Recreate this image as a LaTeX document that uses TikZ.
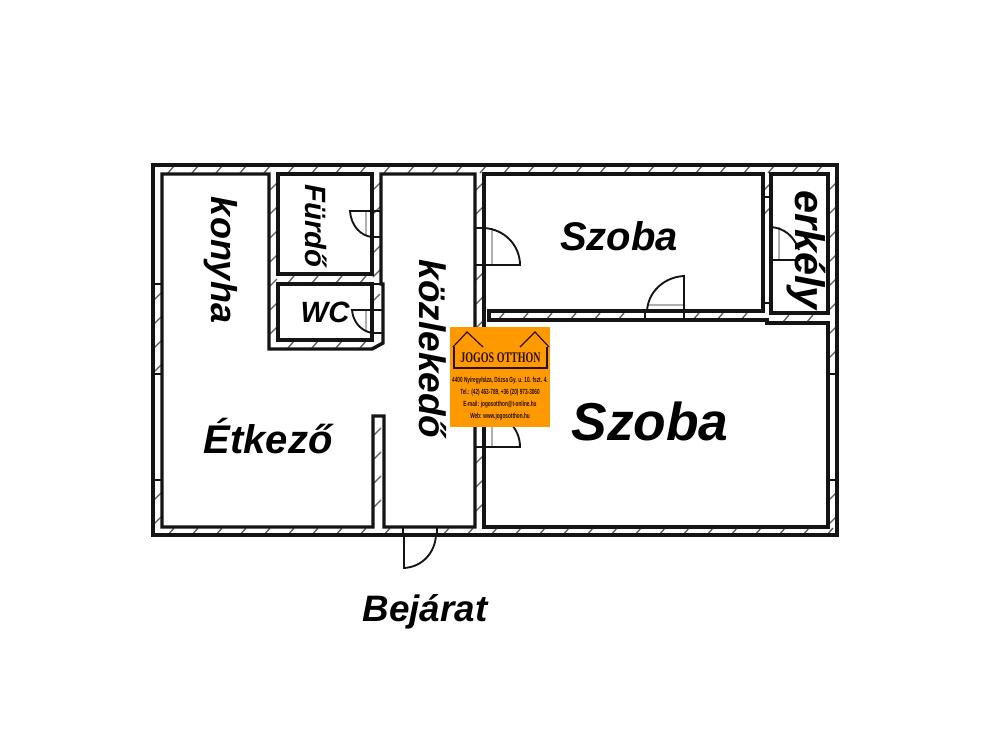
\documentclass[tikz,border=0pt]{standalone}
\usepackage{fontspec}
\setmainfont{Liberation Sans}
\newfontfamily\logofont{Liberation Serif}
\definecolor{wallblack}{RGB}{20,20,20}
\definecolor{doorgrey}{RGB}{175,175,175}
\definecolor{logoorange}{RGB}{255,153,0}
\definecolor{logoink}{RGB}{40,15,0}
\newcommand{\hatchstep}{24}
\tikzset{
    wall/.style={draw=wallblack, line width=2.6pt, line join=miter},
    hatch/.style={draw=wallblack!70, line width=1pt},
    jamb/.style={draw=wallblack, line width=1.3pt},
    door/.style={draw=wallblack, line width=1.4pt},
    doorline/.style={draw=doorgrey, line width=1pt},
    room/.style={anchor=base, inner sep=0pt, font=\bfseries\itshape\fontsize{#1}{#1}\selectfont},
    logohead/.style={inner sep=0pt, text=logoink, xscale=.68, font=\logofont\bfseries\fontsize{11}{11}\selectfont},
    logoline/.style={inner sep=0pt, text=logoink, xscale=.63, font=\bfseries\fontsize{5.6}{5.6}\selectfont},
}
% slanted strokes in a wall: from, to, near edge
\newcommand{\hatchh}[3]{
    \pgfmathsetmacro{\hnext}{#1+\hatchstep}
    \foreach \hx in {#1,\hnext,...,#2}
        \draw[hatch] (\hx+4,#3+1) -- (\hx-2,#3+8);
}
\newcommand{\hatchv}[3]{
    \pgfmathsetmacro{\vnext}{#1+\hatchstep}
    \foreach \vy in {#1,\vnext,...,#2}
        \draw[hatch] (#3+1,\vy+5) -- (#3+8,\vy-2);
}
\begin{document}
\begin{tikzpicture}[x=.75pt, y=-.75pt]
    \useasboundingbox (0,0) rectangle (1000,754);

    % hatching first, the wall lines go over it
    \hatchh{170}{830}{165}
    \hatchh{170}{400}{527}
    \hatchh{445}{830}{527}
    \hatchh{290}{365}{275}
    \hatchh{290}{365}{340}
    \hatchh{500}{640}{312}
    \hatchh{695}{760}{312}
    \hatchh{785}{825}{314}
    \hatchv{295}{370}{153}
    \hatchv{495}{525}{153}
    \hatchv{185}{370}{828}
    \hatchv{495}{525}{828}
    \hatchv{185}{345}{269}
    \hatchv{185}{205}{372}
    \hatchv{248}{305}{372}
    \hatchv{185}{222}{475}
    \hatchv{275}{325}{475}
    \hatchv{458}{525}{475}
    \hatchv{430}{520}{373}
    \hatchv{185}{190}{763}

    % outer wall and rooms
    \draw[wall] (153,165) rectangle (837,535);
    \draw[wall] (162,174) -- (269,174) -- (269,349) -- (372,349) -- (383,343) -- (383,284)
        -- (381,284) -- (381,174) -- (475,174) -- (475,527) -- (384,527) -- (384,416)
        -- (373,416) -- (373,527) -- (162,527) -- cycle;
    \draw[wall] (278,174) rectangle (372,274);
    \draw[wall] (278,284) rectangle (372,340);
    \draw[wall] (484,174) -- (763,174) -- (763,311) -- (489,311) -- (489,320) -- (767,320)
        -- (767,323) -- (828,323) -- (828,527) -- (484,527) -- cycle;
    \draw[wall] (771,174) rectangle (828,313);

    % window and door jambs
    \draw[jamb] (153,284) -- (162,284) (153,374) -- (162,374) (153,480) -- (162,480);
    \draw[jamb] (828,374) -- (837,374) (828,480) -- (837,480);
    \draw[jamb] (763,197) -- (771,197) (763,303) -- (771,303);
    \draw[jamb] (372,284) -- (383,284);
    \draw[jamb] (372,211) -- (381,211) (372,237) -- (381,237);
    \draw[jamb] (372,310) -- (383,310) (372,333) -- (383,333);
    \draw[jamb] (475,228) -- (484,228) (475,265) -- (484,265);
    \draw[jamb] (475,412) -- (484,412) (475,447) -- (484,447);
    \draw[jamb] (645,311) -- (645,320) (684,311) -- (684,320);
    \draw[jamb] (403,527) -- (403,535) (437,527) -- (437,535);

    % doors
    \draw[doorline] (366,211) -- (366,236);
    \draw[doorline] (366,310) -- (366,332);
    \draw[doorline] (492,228) -- (492,265);
    \draw[doorline] (492,412) -- (492,447);
    \draw[doorline] (647,305) -- (684,305);
    \draw[doorline] (779,227) -- (779,259);
    \draw[door] (372,211) -- (350,211) .. controls (351,226) and (361,236) .. (372,237);
    \draw[door] (372,310) -- (352,310) .. controls (353,322) and (361,331) .. (372,333);
    \draw[door] (484,265) -- (520,265) .. controls (520,245) and (504,229) .. (484,228);
    \draw[door] (484,447) -- (520,447) .. controls (520,427) and (504,413) .. (484,412);
    \draw[door] (684,311) -- (684,276) .. controls (664,277) and (648,292) .. (647,311);
    \draw[door] (771,260) -- (800,260) (771,227) .. controls (784,228) and (794,236) .. (799,250);
    \draw[door] (404,535) -- (404,568) .. controls (422,567) and (435,553) .. (436,535);

    % rooms
    \node[room=30] (szobaone) at (619,250) {Szoba};
    \node[room=40] (szobatwo) at (650,440) {Szoba};
    \node[room=30] (etkezo) at (268,453) {Étkező};
    \node[room=27.6] (bejarat) at (425,621) {Bejárat};
    \node[room=22] (wc) at (325,322) {WC};
    \node[room=27, rotate=-90] (konyha) at (211,260) {konyha};
    \node[room=22, rotate=-90] (furdo) at (305,226) {Fürdő};
    \node[room=27.7, rotate=-90] (kozlekedo) at (419,349) {közlekedő};
    \node[room=31, rotate=-90] (erkely) at (795,250) {erkély};

    % logo
    \fill[logoorange] (450,327) rectangle (550,427);
    \draw[draw=logoink, line width=.9pt] (453,347) -- (467,332) -- (483,347);
    \draw[draw=logoink, line width=.9pt] (520,347) -- (535,332) -- (549,347);
    \draw[draw=logoink, line width=.9pt] (454,347) -- (454,368) -- (547,368) -- (547,347);
    \node[logohead] (logoname) at (500.5,358) {JOGOS OTTHON};
    \node[logoline] (logoaddr) at (500,381) {4400 Nyíregyháza, Dózsa Gy. u. 10. fszt. 4.};
    \node[logoline] (logotel) at (500,393) {Tel.: (42) 463-789, +36 (20) 973-3060};
    \node[logoline] (logomail) at (500,405) {E-mail: jogosotthon@t-online.hu};
    \node[logoline] (logoweb) at (500,417) {Web: www.jogosotthon.hu};
\end{tikzpicture}
\end{document}
